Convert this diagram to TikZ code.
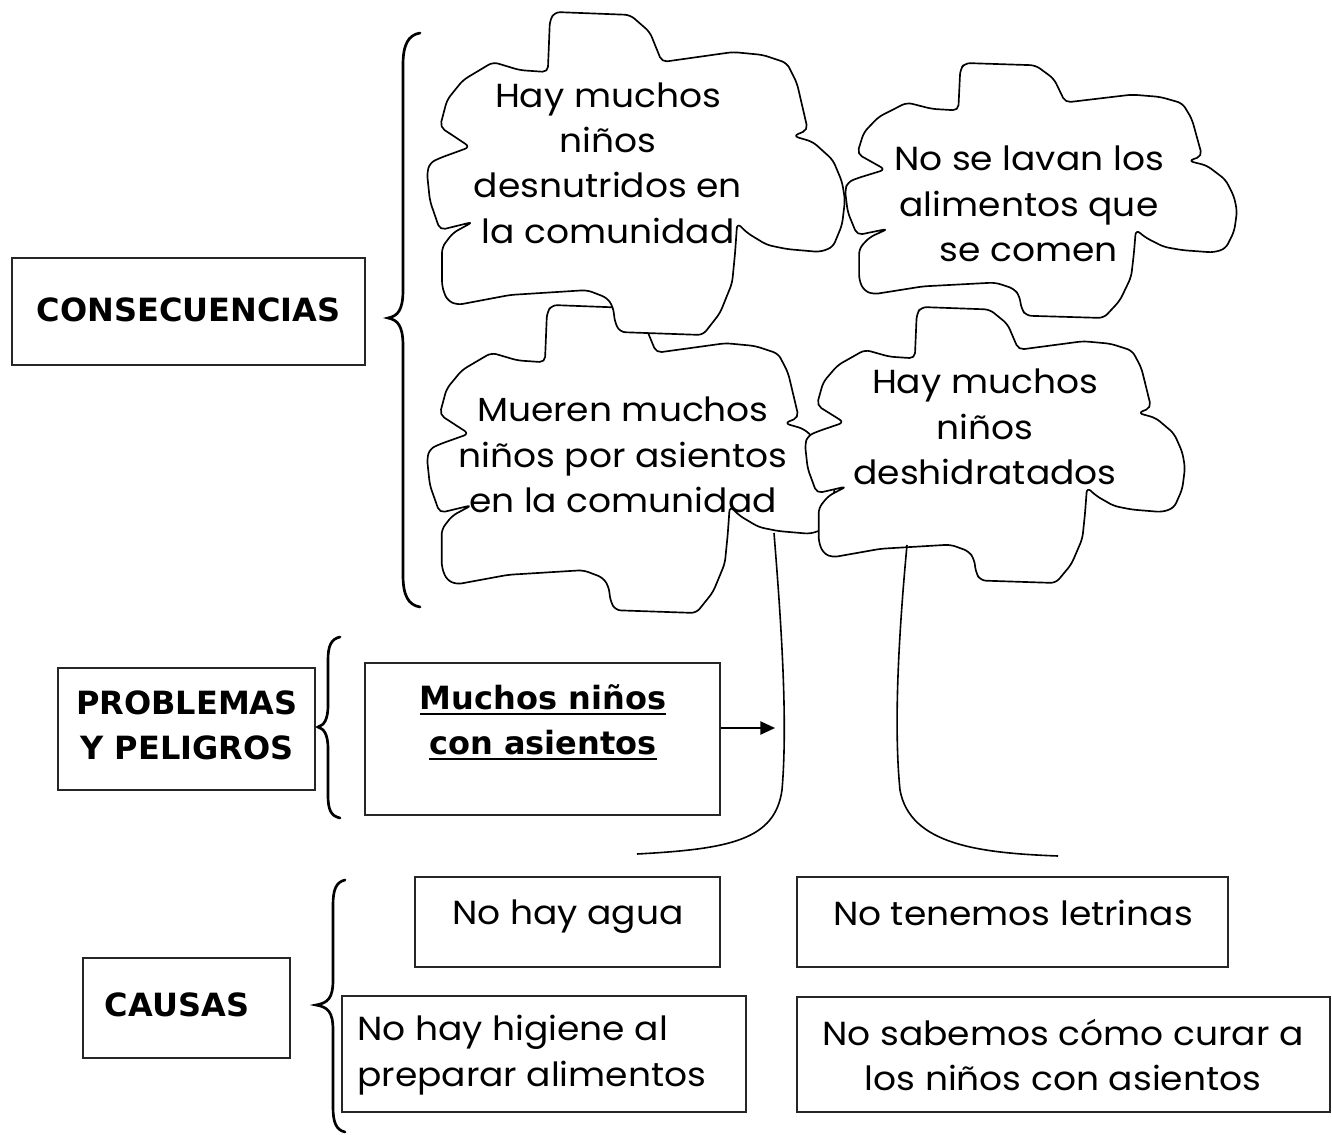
\documentclass[tikz,border=0pt]{standalone}
\usepackage{fontspec}
\setmainfont{Poppins}[FakeStretch=1.08]
\newfontfamily\labfont{DejaVu Sans}
\usetikzlibrary{arrows.meta}
\newcommand\myul[1]{\setbox0\hbox{#1}\rlap{\rule[-4pt]{\wd0}{1.7pt}}\box0}
\newcommand\cloudshape[4]{%
\begin{scope}[shift={(#1,#2)},xscale=#3,yscale=#4]
\filldraw[cloudline] (0,0.498) -- (0.007,0.585) -- (0.031,0.675) -- (0.110,0.650) -- (0.062,0.684) -- (0.036,0.728) -- (0.036,0.851) -- (0.048,0.892) -- (0.072,0.907) -- (0.199,0.876) -- (0.383,0.861) -- (0.431,0.885) -- (0.445,0.913) -- (0.450,0.963) -- (0.462,0.991) -- (0.660,1.0) -- (0.701,0.932) -- (0.730,0.839) -- (0.737,0.746) -- (0.742,0.653) -- (0.766,0.684) -- (0.813,0.721) -- (0.861,0.734) -- (0.940,0.743) -- (0.971,0.728) -- (0.993,0.659) -- (1.0,0.582) -- (0.993,0.526) -- (0.971,0.458) -- (0.923,0.402) -- (0.876,0.384) -- (0.911,0.365) -- (0.885,0.220) -- (0.861,0.158) -- (0.804,0.133) -- (0.732,0.124) -- (0.562,0.155) -- (0.533,0.062) -- (0.486,0.009) -- (0.306,0) -- (0.294,0.025) -- (0.289,0.186) -- (0.222,0.180) -- (0.158,0.155) -- (0.086,0.211) -- (0.048,0.272) -- (0.031,0.356) -- (0.103,0.418) -- (0.031,0.452) -- (0.007,0.467) -- cycle;
\end{scope}}
\begin{document}
\begin{tikzpicture}[x=0.75pt,y=-0.75pt,
  cloudline/.style={draw=black,fill=white,line width=1.25pt,rounded corners=4pt,line join=round},
  ctext/.style={font=\fontsize{25}{34}\selectfont,align=center,inner sep=0pt},
  btext/.style={font=\labfont\bfseries\fontsize{24}{34}\selectfont,align=center,inner sep=0pt},
  boxx/.style={draw=black!85,line width=1pt,inner sep=0pt},
  brace/.style={draw=black,line width=2pt,line cap=round},
  trunk/.style={draw=black,line width=1.2pt},
  arr/.style={draw=black,line width=1pt,-{Triangle[length=11pt,width=10pt]}}]
\useasboundingbox[fill=white] (0,0) rectangle (1332,1135);

% clouds
\cloudshape{427}{305}{408}{308}
\cloudshape{805}{307}{380}{276}
\cloudshape{427}{12}{418}{323}
\cloudshape{845}{63}{392}{255}

\node[ctext] (c1) at (608,163) {Hay muchos\\niños\\desnutridos en\\la comunidad};
\node[ctext] (c2) at (1029,204) {No se lavan los\\alimentos que\\se comen};
\node[ctext] (c3) at (623,455) {Mueren muchos\\niños por asientos\\en la comunidad};
\node[ctext] (c4) at (985,427) {Hay muchos\\niños\\deshidratados};

% trunks
\draw[trunk] (774,533) .. controls (781,620) and (788,720) .. (782,790) .. controls (775,840) and (730,849) .. (637,854);
\draw[trunk] (907,545) .. controls (900,620) and (893,720) .. (900,790) .. controls (910,845) and (980,853) .. (1058,856);

% braces
\draw[brace] (420,33) .. controls (408,35) and (403,45) .. (403,65) -- (403,290) .. controls (403,310) and (398,316) .. (388,318) .. controls (398,320) and (403,326) .. (403,346) -- (403,575) .. controls (403,595) and (408,605) .. (420,607);
\draw[brace] (340,637) .. controls (331,639) and (328,646) .. (328,660) -- (328,705) .. controls (328,720) and (324,725) .. (318,727) .. controls (324,729) and (328,734) .. (328,749) -- (328,795) .. controls (328,810) and (331,816) .. (340,818);
\draw[brace] (345,880) .. controls (336,882) and (333,890) .. (333,905) -- (333,980) .. controls (333,998) and (328,1003) .. (316,1005) .. controls (328,1007) and (333,1012) .. (333,1030) -- (333,1107) .. controls (333,1122) and (336,1130) .. (345,1132);

% boxes
\node[boxx,minimum width=264.75pt,minimum height=80.25pt] (cons) at (188.5,311.5) {};
\node[boxx,minimum width=192.75pt,minimum height=91.5pt] (prob) at (186.5,729) {};
\node[boxx,minimum width=266.25pt,minimum height=114pt] (much) at (542.5,739) {};
\node[boxx,minimum width=155.25pt,minimum height=75pt] (caus) at (186.5,1008) {};
\node[boxx,minimum width=228.75pt,minimum height=67.5pt] (agua) at (567.5,922) {};
\node[boxx,minimum width=303pt,minimum height=87pt] (hig) at (544,1054) {};
\node[boxx,minimum width=323.25pt,minimum height=67.5pt] (letr) at (1012.5,922) {};
\node[boxx,minimum width=399.75pt,minimum height=86.25pt] (sab) at (1063.5,1054.5) {};

\node[btext] (tcons) at (188.5,310) {CONSECUENCIAS};
\node[btext] (tprob) at (187,725.5) {PROBLEMAS\\Y PELIGROS};
\node[btext] (tmuch) at (543,722.5) {\myul{Muchos niños}\\\myul{con asientos}};
\node[btext] (tcaus) at (177,1005) {CAUSAS};

\node[ctext] (tagua) at (568,917) {No hay agua};
\node[ctext,align=left,anchor=west] (thig) at (357,1055) {No hay higiene al\\preparar alimentos};
\node[ctext] (tletr) at (1013,913) {No tenemos letrinas};
\node[ctext] (tsab) at (1063,1055) {No sabemos cómo curar a\\los niños con asientos};

\coordinate (arrtip) at (775,728);
\draw[arr] (arrtip -| much.east) -- (arrtip);
\end{tikzpicture}
\end{document}
